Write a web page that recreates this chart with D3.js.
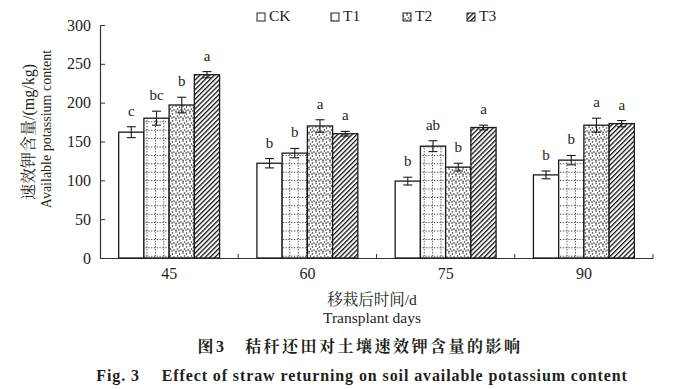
<!DOCTYPE html>
<html>
<head>
<meta charset="utf-8">
<script src="https://cdn.jsdelivr.net/npm/d3@7"></script>
<style>
  body { margin: 0; background: #fff; }
  text { font-family: "Liberation Serif", "Noto Serif CJK SC", "Noto Sans CJK SC", serif; fill: #231f20; }
</style>
</head>
<body>
<div id="chart"></div>
<script>
// data
const days = ['45', '60', '75', '90'];
const series = ['CK', 'T1', 'T2', 'T3'];
const ckValues = [162, 122, 99, 107];
const t1Values = [180, 135, 144, 126];
const t2Values = [197, 170, 117, 171];
const t3Values = [236, 160, 168, 173];
const ckErrors = [7, 6, 5, 5];
const t1Errors = [9, 6, 7, 6];
const t2Errors = [10, 8, 5, 9];
const t3Errors = [4, 3, 3, 4];
const ckLetters = ['c', 'b', 'b', 'b'];
const t1Letters = ['bc', 'b', 'ab', 'b'];
const t2Letters = ['b', 'a', 'b', 'a'];
const t3Letters = ['a', 'a', 'a', 'a'];
const yTicks = [0, 50, 100, 150, 200, 250, 300];

const valuesBySeries = [ckValues, t1Values, t2Values, t3Values];
const errorsBySeries = [ckErrors, t1Errors, t2Errors, t3Errors];
const lettersBySeries = [ckLetters, t1Letters, t2Letters, t3Letters];

const width = 675, height = 389;
const margin = { left: 100, right: 22, top: 25, bottom: 131 };

const svg = d3.select('#chart').append('svg')
    .attr('width', width)
    .attr('height', height);

// fill patterns
const defs = svg.append('defs');

const grid = defs.append('pattern')
    .attr('id', 'pat-T1')
    .attr('patternUnits', 'userSpaceOnUse')
    .attr('width', 8.4).attr('height', 8.4);
grid.append('rect').attr('width', 8.4).attr('height', 8.4).attr('fill', '#fff');
grid.append('line').attr('x1', 4.2).attr('x2', 4.2).attr('y1', 0).attr('y2', 8.4)
    .attr('stroke', '#222').attr('stroke-width', 0.9).attr('stroke-dasharray', '1.2,1.6');
grid.append('line').attr('x1', 0).attr('x2', 8.4).attr('y1', 4.2).attr('y2', 4.2)
    .attr('stroke', '#222').attr('stroke-width', 0.9).attr('stroke-dasharray', '1.2,1.6');

const dots = defs.append('pattern')
    .attr('id', 'pat-T2')
    .attr('patternUnits', 'userSpaceOnUse')
    .attr('width', 7).attr('height', 7);
dots.append('rect').attr('width', 7).attr('height', 7).attr('fill', '#fff');
[[1, 1], [4.5, 2], [2.5, 4], [6, 5], [1, 6.2], [4, 6]].forEach(([cx, cy]) => {
    dots.append('circle').attr('cx', cx).attr('cy', cy).attr('r', 0.8).attr('fill', '#222');
});

const hatch = defs.append('pattern')
    .attr('id', 'pat-T3')
    .attr('patternUnits', 'userSpaceOnUse')
    .attr('width', 3.4).attr('height', 3.4)
    .attr('patternTransform', 'rotate(45)');
hatch.append('rect').attr('width', 3.4).attr('height', 3.4).attr('fill', '#fff');
hatch.append('line').attr('x1', 0).attr('x2', 0).attr('y1', 0).attr('y2', 3.4)
    .attr('stroke', '#111').attr('stroke-width', 2.6);

const fills = { CK: '#fff', T1: 'url(#pat-T1)', T2: 'url(#pat-T2)', T3: 'url(#pat-T3)' };

// scales
const x0 = d3.scaleBand()
    .domain(days)
    .range([margin.left, width - margin.right])
    .paddingInner(0).paddingOuter(0);

const x1 = d3.scaleBand()
    .domain(series)
    .range([0, x0.bandwidth()])
    .paddingInner(0).paddingOuter(0.74);

const y = d3.scaleLinear()
    .domain([0, 300])
    .range([height - margin.bottom, margin.top]);

// axes
const yAxis = svg.append('g')
    .attr('transform', `translate(${margin.left},0)`)
    .call(d3.axisLeft(y).tickValues(yTicks).tickSizeInner(-5).tickSizeOuter(0).tickPadding(9));
yAxis.selectAll('text').style('font-size', '16px');

const xAxis = svg.append('g')
    .attr('transform', `translate(0,${height - margin.bottom})`)
    .call(d3.axisBottom(x0).tickSize(0).tickPadding(10));
xAxis.selectAll('text').style('font-size', '16px');

// boundary ticks between groups, pointing up
const boundaries = days.map(d => x0(d)).concat([x0.range()[1]]).slice(1);
xAxis.selectAll('.bound')
    .data(boundaries)
    .enter().append('line')
    .attr('class', 'bound')
    .attr('x1', d => d).attr('x2', d => d)
    .attr('y1', 0).attr('y2', -4)
    .attr('stroke', '#333');

svg.selectAll('.domain').attr('stroke', '#333').attr('stroke-width', 1.2);
svg.selectAll('.tick line').attr('stroke', '#333');

// bars
const rows = [];
days.forEach((d, i) => {
    series.forEach((s, j) => {
        rows.push({
            day: d, series: s,
            value: valuesBySeries[j][i],
            err: errorsBySeries[j][i],
            letter: lettersBySeries[j][i]
        });
    });
});

const barG = svg.append('g');
barG.selectAll('rect')
    .data(rows)
    .enter().append('rect')
    .attr('x', d => x0(d.day) + x1(d.series))
    .attr('y', d => y(d.value))
    .attr('width', x1.bandwidth())
    .attr('height', d => y(0) - y(d.value))
    .attr('fill', d => fills[d.series])
    .attr('stroke', '#1a1a1a')
    .attr('stroke-width', 1.3);

// error bars
const errG = svg.append('g').attr('stroke', '#1a1a1a').attr('stroke-width', 1.1);
rows.forEach(d => {
    const cx = x0(d.day) + x1(d.series) + x1.bandwidth() / 2;
    errG.append('line').attr('x1', cx).attr('x2', cx)
        .attr('y1', y(d.value + d.err)).attr('y2', y(d.value - d.err));
    errG.append('line').attr('x1', cx - 4.5).attr('x2', cx + 4.5)
        .attr('y1', y(d.value + d.err)).attr('y2', y(d.value + d.err));
    errG.append('line').attr('x1', cx - 4.5).attr('x2', cx + 4.5)
        .attr('y1', y(d.value - d.err)).attr('y2', y(d.value - d.err));
});

// significance letters
svg.append('g').selectAll('text')
    .data(rows)
    .enter().append('text')
    .attr('x', d => x0(d.day) + x1(d.series) + x1.bandwidth() / 2)
    .attr('y', d => y(d.value + d.err) - 11)
    .attr('text-anchor', 'middle')
    .style('font-size', '15px')
    .text(d => d.letter);

// legend
const legendX = [257, 331, 403, 467];
const legend = svg.append('g');
series.forEach((s, i) => {
    legend.append('rect')
        .attr('x', legendX[i]).attr('y', 13)
        .attr('width', 8).attr('height', 8)
        .attr('fill', fills[s])
        .attr('stroke', '#222').attr('stroke-width', 1);
    legend.append('text')
        .attr('x', legendX[i] + 12).attr('y', 21)
        .style('font-size', '15.5px')
        .text(s);
});

// axis titles
svg.append('text')
    .attr('transform', 'translate(34,132) rotate(-90)')
    .attr('text-anchor', 'middle')
    .style('font-size', '16px')
    .text('速效钾含量/(mg/kg)');
svg.append('text')
    .attr('transform', 'translate(51,129) rotate(-90)')
    .attr('text-anchor', 'middle')
    .style('font-size', '14px')
    .text('Available potassium content');

svg.append('text')
    .attr('x', 372).attr('y', 305)
    .attr('text-anchor', 'middle')
    .style('font-size', '15.5px')
    .text('移栽后时间/d');
svg.append('text')
    .attr('x', 372).attr('y', 323)
    .attr('text-anchor', 'middle')
    .style('font-size', '15.5px')
    .text('Transplant days');

// caption
svg.append('text')
    .attr('x', 360).attr('y', 352)
    .attr('text-anchor', 'middle')
    .style('font-size', '16px')
    .style('font-weight', 'bold')
    .style('letter-spacing', '2.5px')
    .text('图3\u2003秸秆还田对土壤速效钾含量的影响');
svg.append('text')
    .attr('x', 362).attr('y', 381)
    .attr('text-anchor', 'middle')
    .style('font-size', '16px')
    .style('font-weight', 'bold')
    .style('letter-spacing', '0.9px')
    .text('Fig. 3\u2003 Effect of straw returning on soil available potassium content');
</script>
</body>
</html>
